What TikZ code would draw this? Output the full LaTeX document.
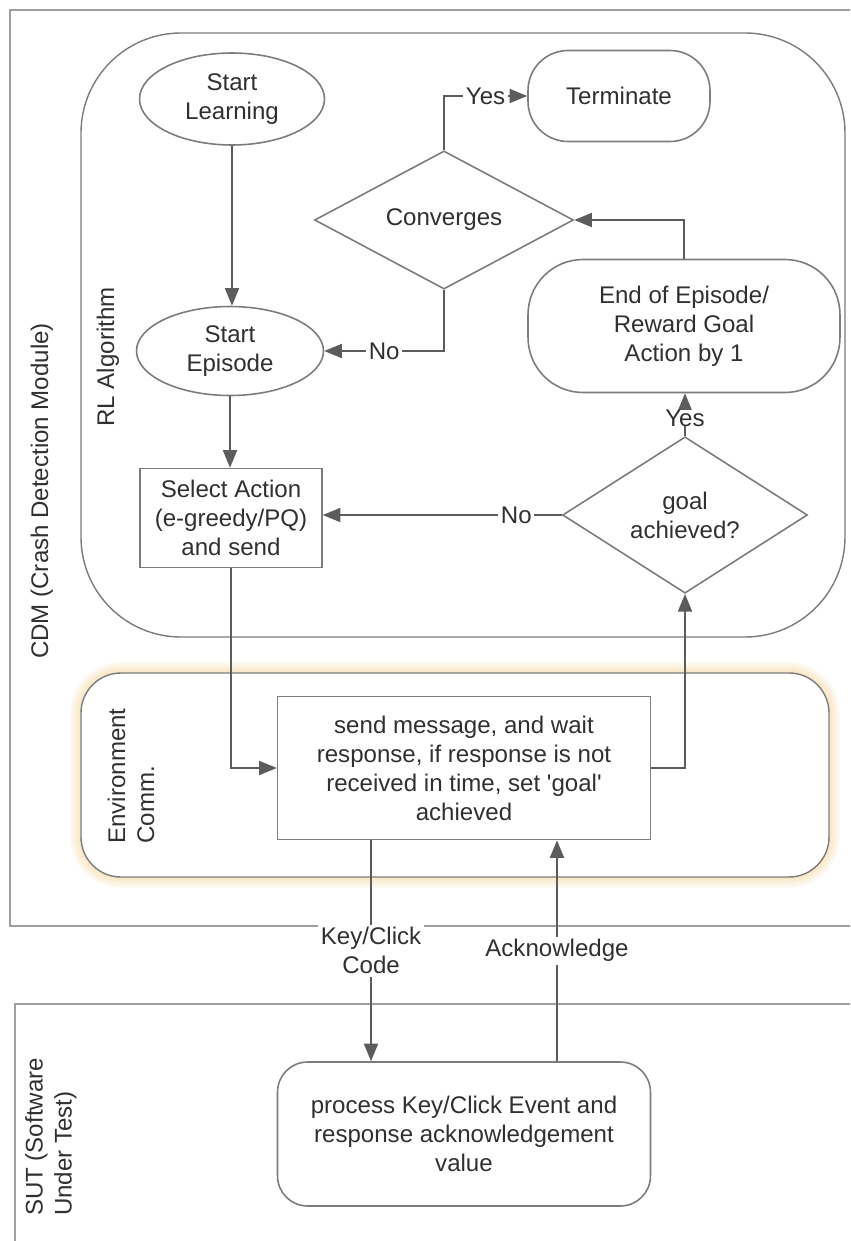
\documentclass[tikz,border=0pt]{standalone}
\usepackage{fontspec}
\setmainfont{Liberation Sans}
\usetikzlibrary{shapes.geometric,arrows.meta}
\definecolor{rahmen}{HTML}{A0A0A0}
\definecolor{form}{HTML}{7C7C7C}
\definecolor{linie}{HTML}{5C5C5C}
\definecolor{schrift}{HTML}{303030}
\definecolor{glut}{HTML}{F5C46A}
\begin{document}
\begin{tikzpicture}[x=0.02cm, y=-0.02cm,
    font=\fontsize{13.7}{16.5}\selectfont, text=schrift,
    >={Triangle[length=10pt,width=8pt]},
    kante/.style={draw=linie, line width=0.9pt, ->},
    oval/.style={draw=form, line width=0.9pt, ellipse, inner sep=0pt, align=center, fill=white},
    kasten/.style={draw=form, line width=0.9pt, inner sep=0pt, align=center, fill=white},
    raute/.style={draw=form, line width=0.9pt, diamond, inner sep=0pt, align=center, fill=white},
    marke/.style={fill=white, inner sep=1.5pt, align=center},
    bahn/.style={rotate=90, align=left}]

  % Hintergrund und Zuschnitt
  \fill[white] (0,0) rectangle (850,1241);
  \useasboundingbox (0,0) rectangle (850,1241);
  \clip (0,0) rectangle (850,1241);

  % Bereiche
  \draw[rahmen, line width=1.2pt] (10,10) rectangle (870,926);
  \draw[rahmen, line width=1.2pt] (15,1004) rectangle (870,1260);
  \draw[form, line width=0.8pt, rounded corners=2cm] (81,33) rectangle (845,637);
  \foreach \w in {12,9,6,3}
    \draw[glut, opacity=0.1, line width=\w pt, rounded corners=0.8cm] (81,673) rectangle (829,877);
  \draw[form, line width=0.8pt, fill=white, rounded corners=0.8cm] (81,673) rectangle (829,877);

  % Beschriftung der Bereiche
  \node[bahn] (cdm) at (42,491) {CDM (Crash Detection Module)};
  \node[bahn] (rl) at (108,357) {RL Algorithm};
  \node[bahn] (env) at (131,776) {Environment\\Comm.};
  \node[bahn] (sut) at (51,1137) {SUT (Software\\Under Test)};

  % Knoten
  \node[oval, minimum width=3.7cm, minimum height=1.84cm] (lernen) at (232,99) {Start\\Learning};
  \node[kasten, rounded corners=0.8cm, minimum width=3.64cm, minimum height=1.82cm] (ende) at (619,96) {Terminate};
  \node[raute, minimum width=5.18cm, minimum height=2.58cm] (konv) at (444,220) {Converges};
  \node[oval, minimum width=3.74cm, minimum height=1.78cm] (episode) at (230,351) {Start\\Episode};
  \node[kasten, rounded corners=1.1cm, minimum width=6.24cm, minimum height=2.66cm] (belohnung) at (684,326) {End of Episode/\\Reward Goal\\Action by 1};
  \node[kasten, minimum width=3.64cm, minimum height=1.98cm] (aktion) at (231,518) {Select Action\\(e-greedy/PQ)\\and send};
  \node[raute, minimum width=4.9cm, minimum height=2.54cm] (ziel) at (685,515) {goal\\achieved?};
  \node[kasten, minimum width=7.46cm, minimum height=2.86cm] (senden) at (464,768) {send message, and wait\\response, if response is not\\received in time, set \textquotesingle goal\textquotesingle\\achieved};
  \node[kasten, rounded corners=0.6cm, minimum width=7.46cm, minimum height=2.88cm] (verarb) at (464,1134) {process Key/Click Event and\\response acknowledgement\\value};

  % Verbindungen
  \draw[kante] (lernen.south) -- (lernen.south |- episode.north);
  \draw[kante] (konv.north) |- node[marke, pos=0.75] {Yes} (ende.west);
  \draw[kante] (belohnung.north) |- (konv.east);
  \draw[kante] (konv.south) |- node[marke, pos=0.75] {No} (episode.east);
  \draw[kante] (episode.south) -- (episode.south |- aktion.north);
  \draw[kante] (ziel.west) -- node[marke, pos=0.19] {No} (ziel.west -| aktion.east);
  \draw[kante] (ziel.north) -- node[marke, inner sep=0pt, pos=0.42] {Yes} (ziel.north |- belohnung.south);
  \draw[kante] (aktion.south) |- (senden.west);
  \draw[kante] (senden.east) -| (ziel.south);
  \draw[kante] ([xshift=-1.86cm]senden.south) -- node[marke] {Key/Click\\Code} ([xshift=-1.86cm]verarb.north);
  \draw[kante] ([xshift=1.86cm]verarb.north) -- node[marke] {Acknowledge} ([xshift=1.86cm]senden.south);

\end{tikzpicture}
\end{document}
